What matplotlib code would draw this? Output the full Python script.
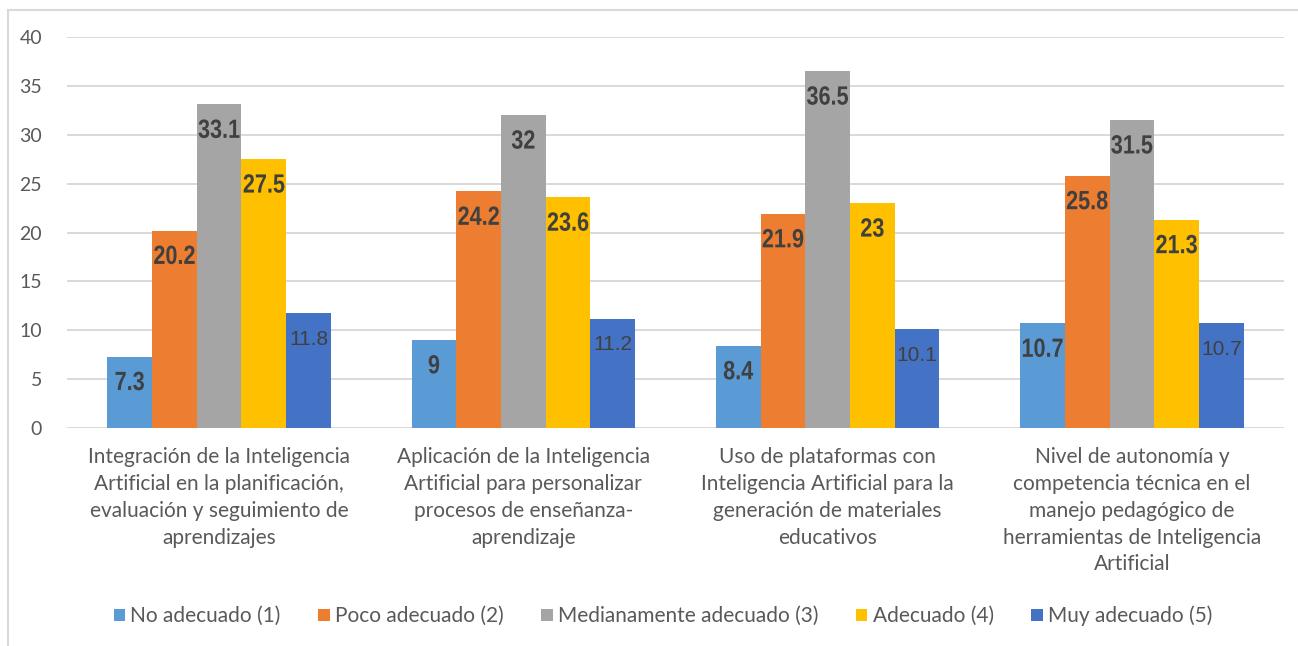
import numpy as np
import matplotlib.pyplot as plt
from matplotlib.patches import Patch
from matplotlib.lines import Line2D
from matplotlib.transforms import Affine2D
from matplotlib import patheffects

categories = [
    "Integración de la Inteligencia\nArtificial en la planificación,\nevaluación y seguimiento de\naprendizajes",
    "Aplicación de la Inteligencia\nArtificial para personalizar\nprocesos de enseñanza-\naprendizaje",
    "Uso de plataformas con\nInteligencia Artificial para la\ngeneración de materiales\neducativos",
    "Nivel de autonomía y\ncompetencia técnica en el\nmanejo pedagógico de\nherramientas de Inteligencia\nArtificial",
]
series_names = ["No adecuado (1)", "Poco adecuado (2)", "Medianamente adecuado (3)",
                "Adecuado (4)", "Muy adecuado (5)"]
no_adecuado = [7.3, 9, 8.4, 10.7]
poco_adecuado = [20.2, 24.2, 21.9, 25.8]
medianamente = [33.1, 32, 36.5, 31.5]
adecuado = [27.5, 23.6, 23, 21.3]
muy_adecuado = [11.8, 11.2, 10.1, 10.7]
yticks = [0, 5, 10, 15, 20, 25, 30, 35, 40]

colors = ["#5B9BD5", "#ED7D31", "#A5A5A5", "#FFC000", "#4472C4"]
all_series = [no_adecuado, poco_adecuado, medianamente, adecuado, muy_adecuado]


# squeeze text horizontally (no condensed bold font installed)
class Narrow(patheffects.AbstractPathEffect):
    def __init__(self, sx=0.82):
        super().__init__()
        self.sx = sx

    def draw_path(self, renderer, gc, tpath, affine, rgbFace=None):
        ext = tpath.get_extents()
        cx = (ext.x0 + ext.x1) / 2
        t = Affine2D().translate(-cx, 0).scale(self.sx, 1).translate(cx, 0) + affine
        renderer.draw_path(gc, tpath, t, rgbFace)


fig = plt.figure(figsize=(12.98, 6.46), dpi=100)
ax = fig.add_axes([67 / 1298, 1 - 428 / 646, (1284 - 67) / 1298, (428 - 37) / 646])

x = np.arange(len(categories))
w = 0.147
for i, (vals, c) in enumerate(zip(all_series, colors)):
    bars = ax.bar(x + (i - 2) * w, vals, w, color=c, zorder=2)
    for b, v in zip(bars, vals):
        txt = f"{v:g}"
        xc = b.get_x() + b.get_width() / 2
        if i < 4:
            ax.annotate(txt, (xc, v), xytext=(0, -19), textcoords="offset points",
                        ha="center", va="center", fontsize=19, fontweight="bold",
                        color="#404040", family="Liberation Sans", zorder=3,
                        path_effects=[Narrow(0.82)])
        else:
            ax.annotate(txt, (xc, v), xytext=(0, -19), textcoords="offset points",
                        ha="center", va="center", fontsize=15, color="#404040",
                        family="Liberation Sans", zorder=3)

ax.set_ylim(0, 40)
ax.set_xlim(-0.5, 3.5)
ax.set_yticks(yticks)
ax.set_yticklabels([str(t) for t in yticks], fontsize=14, color="#595959", family="Lato")
ax.set_xticks(x)
ax.set_xticklabels(categories, fontsize=15, color="#595959", family="Lato",
                   linespacing=1.42, va="top")
ax.tick_params(axis="both", length=0)
ax.tick_params(axis="y", pad=18)
ax.tick_params(axis="x", pad=14)
ax.grid(axis="y", color="#D9D9D9", linewidth=1.4, zorder=0)
ax.set_axisbelow(True)
for s in ax.spines.values():
    s.set_visible(False)

handles = [Patch(facecolor=c, edgecolor="none") for c in colors]
leg = fig.legend(handles, series_names, loc="center", bbox_to_anchor=(663 / 1298, 1 - 616 / 646),
                 ncol=5, frameon=False, handlelength=0.55, handleheight=0.55, handletextpad=0.25,
                 columnspacing=1.8, prop={"family": "Lato", "size": 15})
for t in leg.get_texts():
    t.set_color("#595959")

# outer chart frame
fig.add_artist(Line2D([8 / 1298, 1], [1 - 10 / 646, 1 - 10 / 646], transform=fig.transFigure,
                      color="#D9D9D9", linewidth=1.5))
fig.add_artist(Line2D([8 / 1298, 8 / 1298], [0, 1 - 10 / 646], transform=fig.transFigure,
                      color="#D9D9D9", linewidth=1.5))

fig.savefig("out.png", dpi=100)
